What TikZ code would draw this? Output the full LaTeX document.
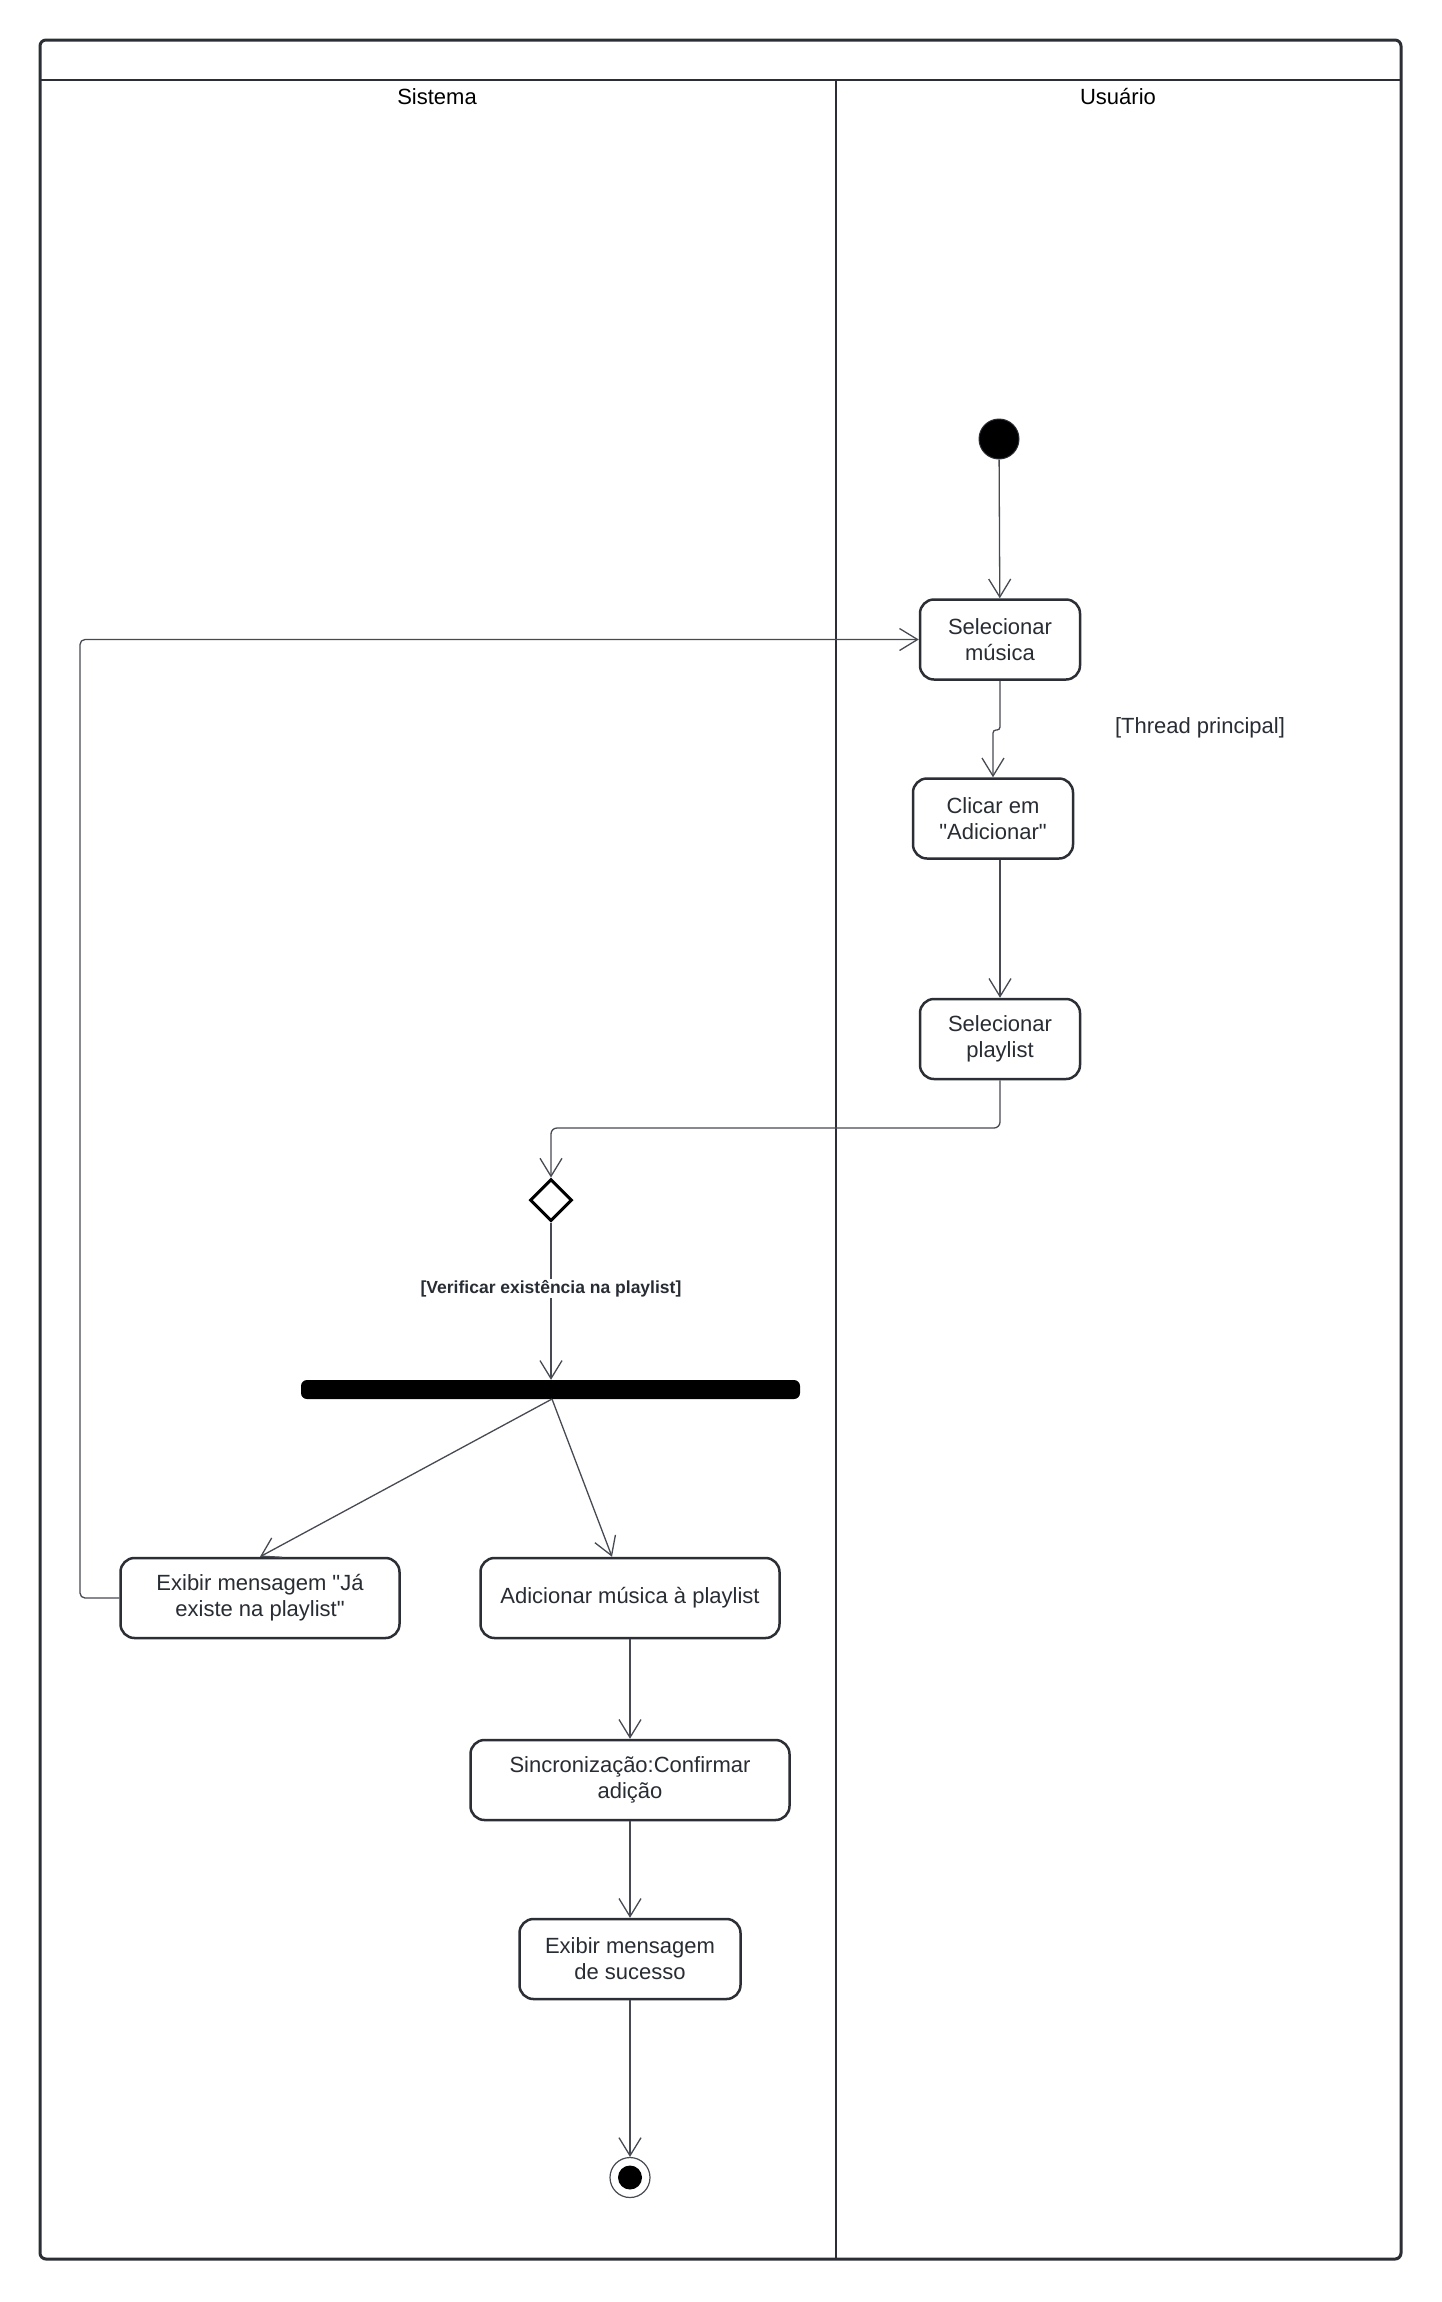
\documentclass[tikz,border=0pt]{standalone}
\usepackage{fontspec}
\setmainfont{Liberation Sans}[Ligatures=TeXOff]
\usetikzlibrary{arrows.meta,shapes.geometric,calc}
\definecolor{txt}{HTML}{282C33}
\definecolor{ln}{HTML}{474A52}
\definecolor{frame}{HTML}{2B2E35}
\begin{document}
\begin{tikzpicture}[x=1pt,y=-1pt,
  act/.style={draw=frame, line width=2.5pt, rounded corners=14pt, fill=white, text=txt,
    align=center, font=\fontsize{22}{26}\selectfont, inner sep=0pt, minimum height=80pt},
  flow/.style={draw=ln, line width=1.3pt, -{Straight Barb[length=18pt,width=22pt]}},
  lanelabel/.style={font=\fontsize{22}{26}\selectfont, text=black},
]
\useasboundingbox (0,0) rectangle (1441,2302);
\fill[white] (0,0) rectangle (1441,2302);
% pool and lanes
\draw[frame, line width=3pt, rounded corners=6pt] (40,40) rectangle (1401,2259);
\draw[frame, line width=2.5pt] (40,80) -- (1401,80);
\draw[frame, line width=2pt] (836,80) -- (836,2259);
\node[lanelabel] (lsis) at (437,97) {Sistema};
\node[lanelabel] (lusu) at (1118,97) {Usuário};

% nodes
\node[circle, fill=black, draw=frame, line width=1pt, minimum size=40pt, inner sep=0pt] (init) at (999,439) {};
\node[act, minimum width=160pt] (selM) at (1000,639.5) {Selecionar\\música};
\node[act, minimum width=160pt] (clic) at (993,818.5) {Clicar em\\"Adicionar"};
\node[act, minimum width=160pt] (selP) at (1000,1039) {Selecionar\\playlist};
\node[text=txt, font=\fontsize{22}{26}\selectfont] (thr) at (1200,728) {[Thread principal]};
\node[diamond, draw=black, line width=3pt, fill=white, minimum width=42pt, minimum height=42pt, inner sep=0pt] (dec) at (551,1200) {};
\node[fill=black, rounded corners=6pt, minimum width=499pt, minimum height=19pt, inner sep=0pt] (bar) at (550.5,1389.5) {};
\node[act, minimum width=279pt] (ja) at (260,1598) {Exibir mensagem "Já\\existe na playlist"};
\node[act, minimum width=299pt] (add) at (630,1598) {Adicionar música à playlist};
\node[act, minimum width=319pt] (sinc) at (630,1780) {Sincronização:Confirmar\\adição};
\node[act, minimum width=221pt] (suc) at (630,1959) {Exibir mensagem\\de sucesso};
\node[circle, draw=ln, line width=1.2pt, fill=white, minimum size=40pt, inner sep=0pt] (fin) at (630,2177.5) {};
\fill[black] (fin.center) circle (12pt);

% connectors
\coordinate (fork) at (552,1399);
\draw[flow] (init) -- (selM);
\draw[flow, rounded corners=3pt] (selM.south) -- (1000,730) -- (993,730) -- (clic.north);
\draw[flow] (selP.north |- clic.south) -- (selP.north);
\draw[flow, rounded corners=6pt] (selP.south) -- (1000,1128) -| (dec.north);
\draw[flow] (dec.south) -- node[pos=0.42, fill=white, inner sep=1pt, text=txt,
   font=\bfseries\fontsize{17.5}{20}\selectfont] (lbl) {[Verificar existência na playlist]} (bar.north -| dec);
\draw[flow] (fork) -- (ja.north);
\draw[flow] (fork) -- ($(add.north)+(-18,0)$);
\draw[flow, rounded corners=5pt] (ja.west) -- (80,1598) |- (selM.west);
\draw[flow] (add) -- (sinc);
\draw[flow] (sinc) -- (suc);
\draw[flow] (suc) -- (fin);
\end{tikzpicture}
\end{document}
